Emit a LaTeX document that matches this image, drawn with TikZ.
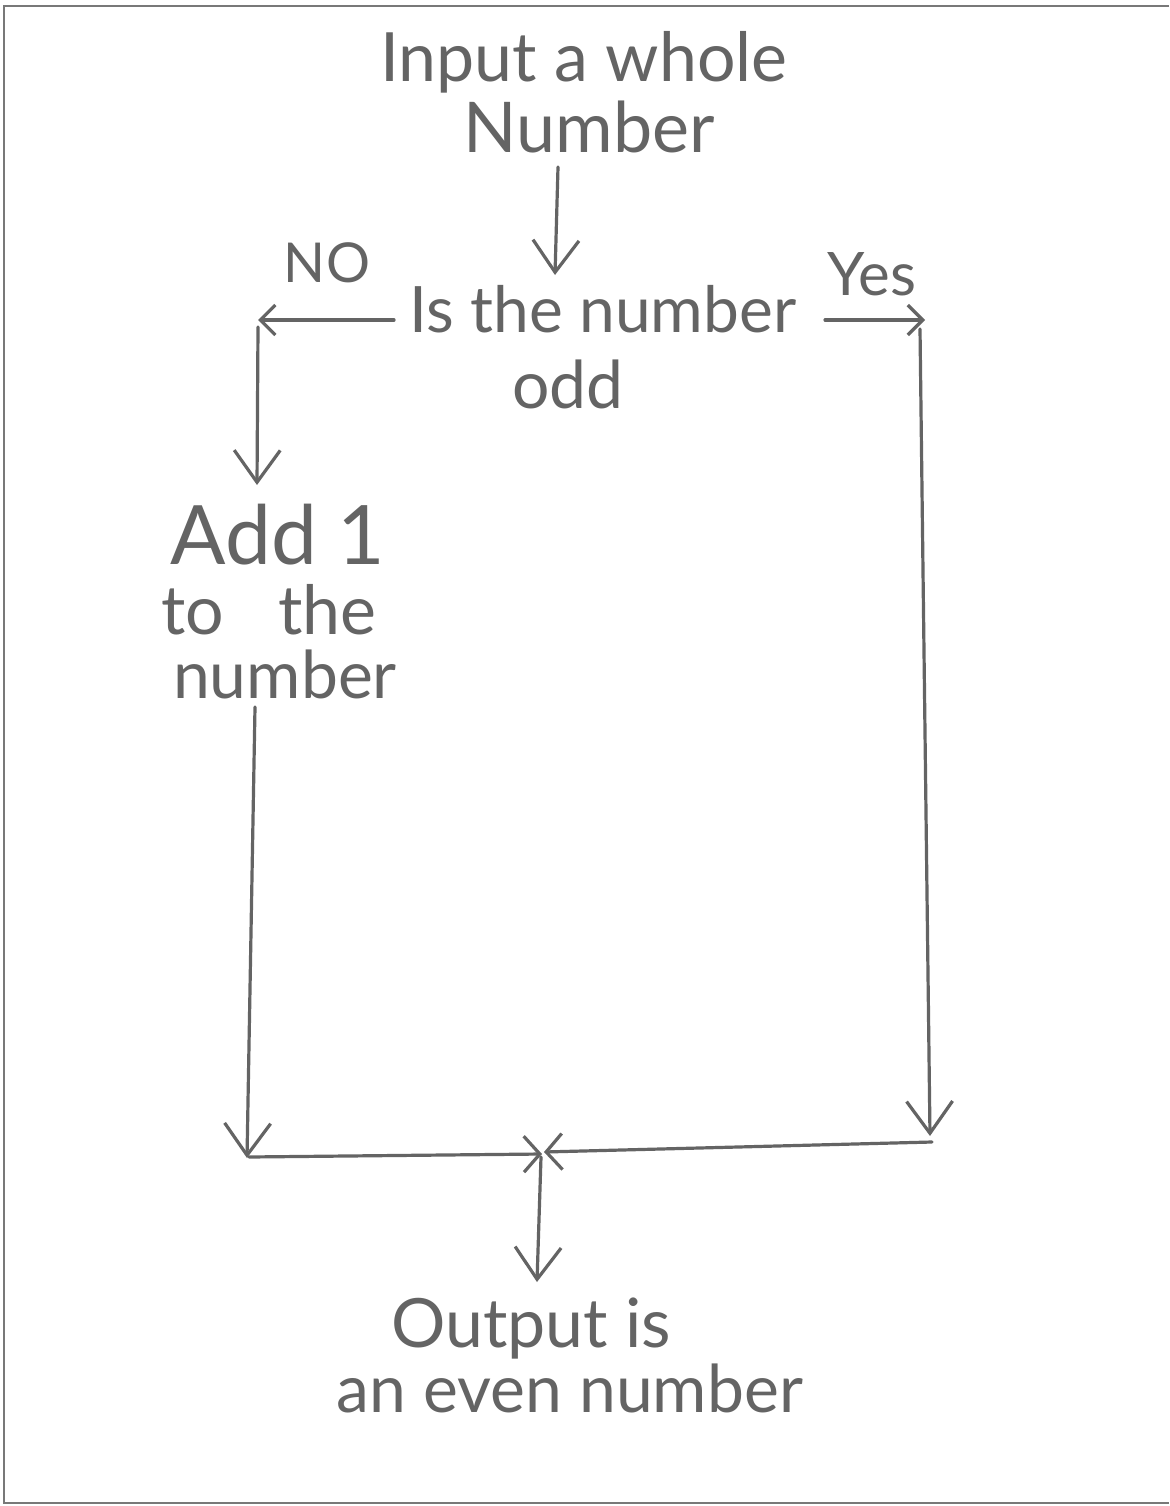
\documentclass[tikz,border=0pt]{standalone}
\usepackage{fontspec}
\setmainfont{Lato}
\usetikzlibrary{arrows.meta}
\definecolor{pencil}{RGB}{100,100,100}
\definecolor{frame}{RGB}{120,120,120}
\newcommand{\penfs}[1]{\fontsize{#1}{#1}\selectfont}
\begin{document}
\begin{tikzpicture}[x=1pt,y=-1pt,
  hand/.style={text=pencil, inner sep=0pt, anchor=base},
  wire/.style={draw=pencil, line width=3.2pt, line cap=round, line join=round},
  bighead/.style={-{Straight Barb[length=32pt,width=46pt]}},
  smallhead/.style={-{Straight Barb[length=15pt,width=30pt]}},
  meethead/.style={-{Straight Barb[length=16pt,width=36pt]}}]
\useasboundingbox (0,0) rectangle (1169,1506);
\fill[white] (0,0) rectangle (1169,1506);

% page frame
\draw[draw=frame, line width=1.5pt] (1169,6) -- (4,6) -- (4,1503) -- (1169,1503);

% text blocks
\node[hand, font=\penfs{68}] (in1) at (584,82) {Input a whole};
\node[hand, font=\penfs{70}] (in2) at (589,153) {Number};
\node[hand, font=\penfs{64}] (q1) at (603,332) {Is the number};
\node[hand, font=\penfs{66}] (q2) at (568,408) {odd};
\node[hand, font=\penfs{55}] (no) at (327,283) {NO};
\node[hand, font=\penfs{60}] (yes) at (872,295) {Yes};
\node[hand, font=\penfs{82}] (a1) at (278,564) {Add 1};
\node[hand, font=\penfs{68}] (a2) at (269,634) {to\hspace{0.8em}the};
\node[hand, font=\penfs{66}] (a3) at (285,698) {number};
\node[hand, font=\penfs{68}] (o1) at (531,1347) {Output is};
\node[hand, font=\penfs{66}] (o2) at (570,1412) {an even number};

% connector end points
\coordinate (inOut) at (558,167);
\coordinate (decIn) at (555,275);
\coordinate (decW) at (394,320);
\coordinate (noCorner) at (258,320);
\coordinate (decE) at (825,320);
\coordinate (yesCorner) at (925,320);
\coordinate (noDown) at (258,327);
\coordinate (addIn) at (257,485);
\coordinate (addOut) at (255,707);
\coordinate (leftLow) at (247,1158);
\coordinate (leftRun) at (249,1157);
\coordinate (yesDown) at (920,329);
\coordinate (rightLow) at (930,1136);
\coordinate (rightRun) at (932,1142);
\coordinate (joinL) at (542,1154);
\coordinate (joinR) at (544,1152);
\coordinate (joinDown) at (541,1157);
\coordinate (outIn) at (537,1282);

% connectors
\draw[wire, bighead] (inOut) -- (decIn);
\draw[wire, smallhead] (decW) -- (noCorner);
\draw[wire, smallhead] (decE) -- (yesCorner);
\draw[wire, bighead] (noDown) -- (addIn);
\draw[wire, bighead] (addOut) -- (leftLow);
\draw[wire, bighead] (yesDown) -- (rightLow);
\draw[wire, meethead] (leftRun) -- (joinL);
\draw[wire, meethead] (rightRun) -- (joinR);
\draw[wire, bighead] (joinDown) -- (outIn);
\end{tikzpicture}
\end{document}
